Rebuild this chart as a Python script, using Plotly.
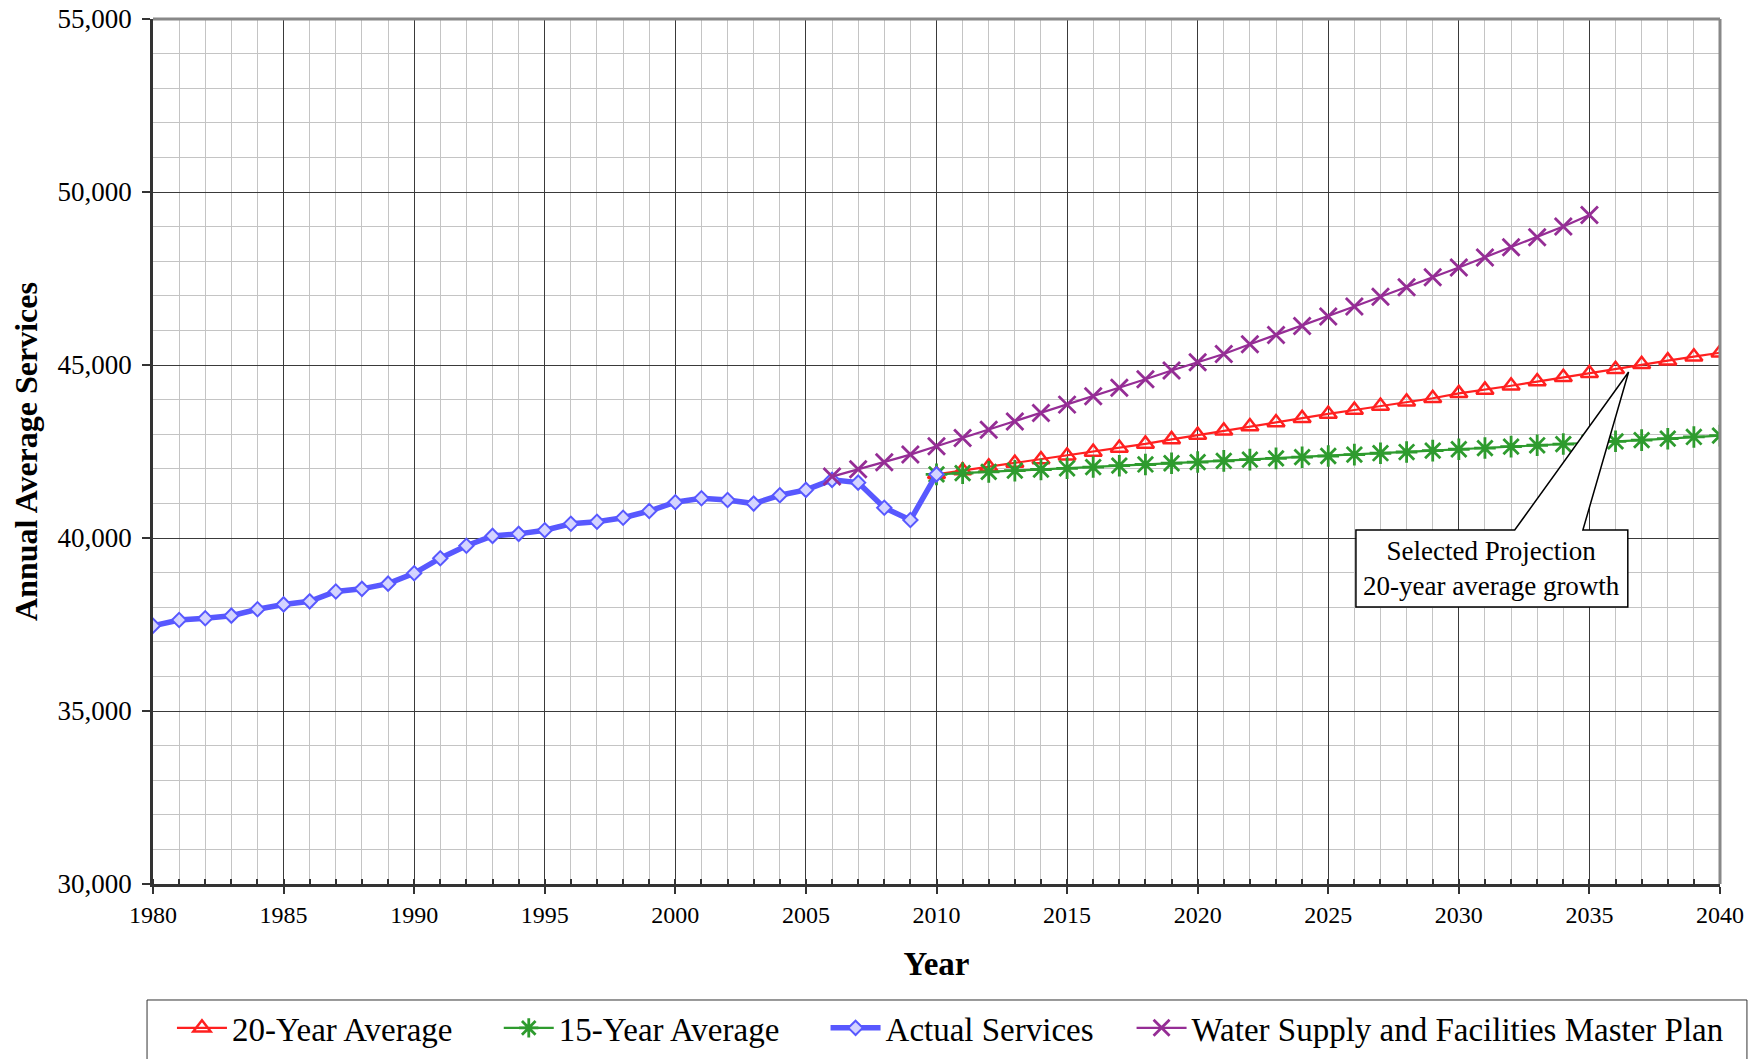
import plotly.graph_objects as go

# ---------------- data ----------------
years_actual = list(range(1980, 2011))
actual_services = [37465, 37630, 37680, 37755, 37940, 38080, 38170, 38455, 38530, 38680,
                   38980, 39415, 39775, 40060, 40120, 40225, 40410, 40470, 40585, 40780,
                   41035, 41150, 41100, 40995, 41235, 41390, 41680, 41600, 40875, 40520,
                   41840]

years_proj = list(range(2010, 2041))
avg_20yr = [41840, 41950, 42060, 42165, 42270, 42375, 42485, 42600, 42720, 42850,
            42975, 43100, 43220, 43340, 43460, 43585, 43700, 43815, 43940, 44040,
            44180, 44280, 44400, 44520, 44645, 44760, 44875, 45020, 45125, 45240,
            45355]
avg_15yr = [41840, 41875, 41910, 41945, 41980, 42015, 42050, 42090, 42125, 42160,
            42195, 42230, 42265, 42300, 42335, 42370, 42410, 42450, 42485, 42525,
            42565, 42600, 42640, 42680, 42715, 42755, 42795, 42830, 42870, 42920,
            42960]

years_master = list(range(2006, 2036))
master_plan = [41775, 41985, 42190, 42410, 42650, 42890, 43130, 43370, 43610, 43855,
               44095, 44345, 44590, 44840, 45080, 45320, 45600, 45870, 46130, 46400,
               46690, 46970, 47245, 47535, 47820, 48110, 48400, 48690, 49000, 49335]

names = ["20-Year Average", "15-Year Average", "Actual Services",
         "Water Supply and Facilities Master Plan"]
callout_text = "Selected Projection<br>20-year average growth"

# callout geometry (data units)
box_x0, box_x1 = 2026.06, 2036.47
box_y0, box_y1 = 38006, 40231
wedge_a, wedge_b = 2032.14, 2034.75
tip_x, tip_y = 2036.5, 44798

FONT = "Liberation Serif"
NB = "\u00a0"
pad = [5, 5, 4, 0]  # trailing spacing in legend entries
legend_names = [n + NB * p for n, p in zip(names, pad)]

fig = go.Figure()
fig.add_trace(go.Scatter(
    x=years_proj, y=avg_20yr, name=legend_names[0], mode="lines+markers",
    line=dict(color="#ff2020", width=2.2),
    marker=dict(symbol="triangle-up-open", size=15, color="#ff2020",
                line=dict(width=2.5, color="#ff2020"))))
fig.add_trace(go.Scatter(
    x=years_proj, y=avg_15yr, name=legend_names[1], mode="lines+markers",
    line=dict(color="#2e9b2e", width=2.2),
    marker=dict(symbol="asterisk-open", size=18, color="#2e9b2e",
                line=dict(width=2.8, color="#2e9b2e"))))
fig.add_trace(go.Scatter(
    x=years_actual, y=actual_services, name=legend_names[2], mode="lines+markers",
    line=dict(color="#5858ff", width=5.5),
    marker=dict(symbol="diamond", size=11, color="#d4d4ff",
                line=dict(width=2, color="#5858ff"))))
fig.add_trace(go.Scatter(
    x=years_master, y=master_plan, name=legend_names[3], mode="lines+markers",
    line=dict(color="#952d95", width=2.2),
    marker=dict(symbol="x-thin-open", size=17, color="#952d95",
                line=dict(width=2.8, color="#952d95"))))

# callout box with wedge pointer
path = (f"M {box_x0},{box_y1} L {wedge_a},{box_y1} L {tip_x},{tip_y} "
        f"L {wedge_b},{box_y1} L {box_x1},{box_y1} L {box_x1},{box_y0} "
        f"L {box_x0},{box_y0} Z")
fig.add_shape(type="path", path=path, xref="x", yref="y",
              fillcolor="white", line=dict(color="black", width=1.5), layer="above")
fig.add_annotation(x=(box_x0 + box_x1) / 2, y=(box_y0 + box_y1) / 2, xref="x", yref="y",
                   text=callout_text, showarrow=False,
                   font=dict(family=FONT, size=27, color="black"))

# top & right border
fig.add_shape(type="line", xref="x domain", yref="y domain", x0=0, x1=1, y0=1, y1=1,
              line=dict(color="#888888", width=3), layer="above")
fig.add_shape(type="line", xref="x domain", yref="y domain", x0=1, x1=1, y0=0, y1=1,
              line=dict(color="#888888", width=3), layer="above")

# legend frame
fig.add_shape(type="rect", xref="paper", yref="paper",
              x0=-0.0038, x1=1.0172, y0=-0.1341, y1=-0.215,
              line=dict(color="#333333", width=1), fillcolor="rgba(0,0,0,0)",
              layer="above")

fig.update_layout(
    width=1761, height=1059,
    margin=dict(l=145, r=49, t=11, b=183, autoexpand=False),
    paper_bgcolor="white", plot_bgcolor="white",
    font=dict(family=FONT, color="black"),
    showlegend=True,
    legend=dict(orientation="h", x=0.0121, xanchor="left", y=-0.134, yanchor="top",
                font=dict(family=FONT, size=33, color="black"),
                itemwidth=50, borderwidth=0, bgcolor="rgba(0,0,0,0)"),
    xaxis=dict(range=[1980, 2040], dtick=5, tick0=1980, automargin=False,
               showgrid=True, gridcolor="#3a3a3a", gridwidth=1,
               ticks="outside", ticklen=7, tickcolor="#333", tickwidth=1.5,
               showline=True, linecolor="#333", linewidth=2.5,
               zeroline=False, ticklabeloverflow="allow",
               tickfont=dict(family=FONT, size=24),
               title=dict(text="<b>Year</b>", font=dict(family=FONT, size=33), standoff=26),
               minor=dict(dtick=1, showgrid=True, gridcolor="#c4c4c4", gridwidth=1,
                          ticks="inside", ticklen=5, tickcolor="#333")),
    yaxis=dict(range=[30000, 55000], dtick=5000, tick0=30000, automargin=False,
               showgrid=True, gridcolor="#3a3a3a", gridwidth=1,
               ticks="outside", ticklen=8, tickcolor="#333", tickwidth=1.5,
               showline=True, linecolor="#333", linewidth=2.5,
               zeroline=False, tickformat=",d", ticklabelstandoff=5,
               ticklabeloverflow="allow",
               tickfont=dict(family=FONT, size=27),
               title=dict(text="<b>Annual Average Services</b>",
                          font=dict(family=FONT, size=32), standoff=18),
               minor=dict(dtick=1000, showgrid=True, gridcolor="#c4c4c4", gridwidth=1)),
)

fig.write_html("out.html")
